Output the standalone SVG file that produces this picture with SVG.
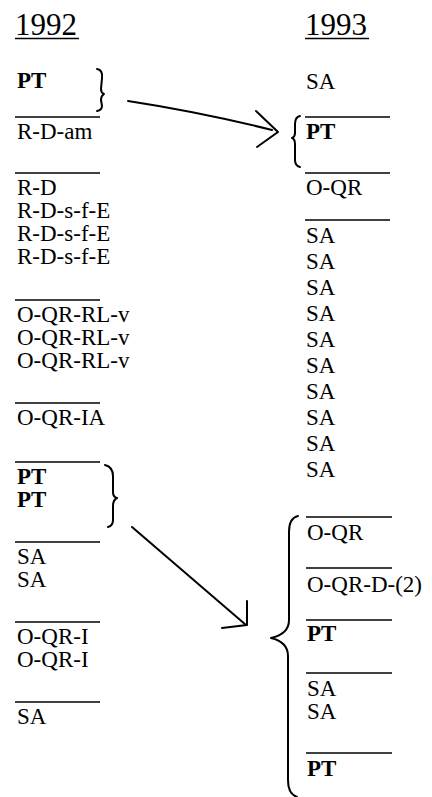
<svg xmlns="http://www.w3.org/2000/svg" width="432" height="797" viewBox="0 0 432 797">
  <style>
    .t { font-family: "Liberation Serif", "Times New Roman", serif; font-size: 23px; fill: #000; }
    .b { font-weight: bold; }
    .h { font-size: 31px; }
    .rule { stroke: #000; stroke-width: 1.6; fill: none; }
    .ink { stroke: #000; stroke-width: 2; fill: none; stroke-linecap: round; stroke-linejoin: round; }
  </style>
  <rect width="432" height="797" fill="#fff"/>

  <!-- 1992 column -->
  <g id="col-1992">
    <g id="h1992"><text class="t h" x="15" y="35">1992</text><line class="rule" x1="15" y1="38.5" x2="79" y2="38.5"/></g>
    <g id="l-pt1"><text class="t b" x="17" y="88">PT</text></g>
    <g id="l-rdam"><line class="rule" x1="15" y1="117" x2="100" y2="117"/><text class="t" x="17" y="139">R-D-am</text></g>
    <g id="l-rd">
      <line class="rule" x1="15" y1="173" x2="100" y2="173"/>
      <text class="t" x="17" y="195">R-D</text>
      <text class="t" x="17" y="218">R-D-s-f-E</text>
      <text class="t" x="17" y="241">R-D-s-f-E</text>
      <text class="t" x="17" y="264">R-D-s-f-E</text>
    </g>
    <g id="l-oqrrl">
      <line class="rule" x1="15" y1="300" x2="100" y2="300"/>
      <text class="t" x="17" y="322">O-QR-RL-v</text>
      <text class="t" x="17" y="345">O-QR-RL-v</text>
      <text class="t" x="17" y="368">O-QR-RL-v</text>
    </g>
    <g id="l-oqria"><line class="rule" x1="15" y1="403" x2="100" y2="403"/><text class="t" x="17" y="425">O-QR-IA</text></g>
    <g id="l-pt2">
      <line class="rule" x1="15" y1="462" x2="100" y2="462"/>
      <text class="t b" x="17" y="484">PT</text>
      <text class="t b" x="17" y="507">PT</text>
    </g>
    <g id="l-sa1">
      <line class="rule" x1="15" y1="542" x2="100" y2="542"/>
      <text class="t" x="17" y="564">SA</text>
      <text class="t" x="17" y="587">SA</text>
    </g>
    <g id="l-oqri">
      <line class="rule" x1="15" y1="622" x2="100" y2="622"/>
      <text class="t" x="17" y="644">O-QR-I</text>
      <text class="t" x="17" y="667">O-QR-I</text>
    </g>
    <g id="l-sa2"><line class="rule" x1="15" y1="702" x2="100" y2="702"/><text class="t" x="17" y="724">SA</text></g>
  </g>

  <!-- 1993 column -->
  <g id="col-1993">
    <g id="h1993"><text class="t h" x="305" y="35">1993</text><line class="rule" x1="305" y1="38.5" x2="369" y2="38.5"/></g>
    <g id="r-sa1"><text class="t" x="306" y="89">SA</text></g>
    <g id="r-pt1"><line class="rule" x1="305" y1="117" x2="390" y2="117"/><text class="t b" x="306" y="139">PT</text></g>
    <g id="r-oqr1"><line class="rule" x1="305" y1="173" x2="390" y2="173"/><text class="t" x="306" y="195">O-QR</text></g>
    <g id="r-sa-list">
      <line class="rule" x1="305" y1="220" x2="390" y2="220"/>
      <text class="t" x="306" y="243">SA</text>
      <text class="t" x="306" y="269">SA</text>
      <text class="t" x="306" y="295">SA</text>
      <text class="t" x="306" y="321">SA</text>
      <text class="t" x="306" y="347">SA</text>
      <text class="t" x="306" y="373">SA</text>
      <text class="t" x="306" y="399">SA</text>
      <text class="t" x="306" y="425">SA</text>
      <text class="t" x="306" y="451">SA</text>
      <text class="t" x="306" y="477">SA</text>
    </g>
    <g id="r-oqr2"><line class="rule" x1="306" y1="517" x2="392" y2="517"/><text class="t" x="307" y="540">O-QR</text></g>
    <g id="r-oqrd"><line class="rule" x1="306" y1="568" x2="392" y2="568"/><text class="t" x="307" y="592">O-QR-D-(2)</text></g>
    <g id="r-pt2"><line class="rule" x1="306" y1="620" x2="392" y2="620"/><text class="t b" x="307" y="641">PT</text></g>
    <g id="r-sa2">
      <line class="rule" x1="306" y1="673" x2="392" y2="673"/>
      <text class="t" x="307" y="696">SA</text>
      <text class="t" x="307" y="719">SA</text>
    </g>
    <g id="r-pt3"><line class="rule" x1="306" y1="753" x2="392" y2="753"/><text class="t b" x="307" y="776">PT</text></g>
  </g>

  <!-- braces and arrows -->
  <g id="connectors">
    <path class="ink" d="M97,69 Q103,70 102,78 L101,89 Q101,93 104,94 Q101,96 101,100 L102,106 Q102,110 97,111"/>
    <path class="ink" d="M128,101 Q200,112 272,130"/>
    <path class="ink" d="M256,111 L278,132 L257,147"/>
    <path class="ink" d="M300,116 Q295,117 295,124 L295,133 Q295,137 292,138 Q295,139 295,144 L295,160 Q295,166 300,167"/>

    <path class="ink" d="M105,465 Q113,467 113,476 L113,492 Q113,497 117,498 Q113,500 113,506 L113,520 Q113,526 108,527"/>
    <path class="ink" d="M132,527 L246,625"/>
    <path class="ink" d="M247,601 L247,625 L222,628"/>
    <path class="ink" d="M298,516 Q289,518 289,532 L289,620 Q289,634 271,638 Q288,642 288,656 L288,780 Q288,794 297,797"/>
  </g>
</svg>
